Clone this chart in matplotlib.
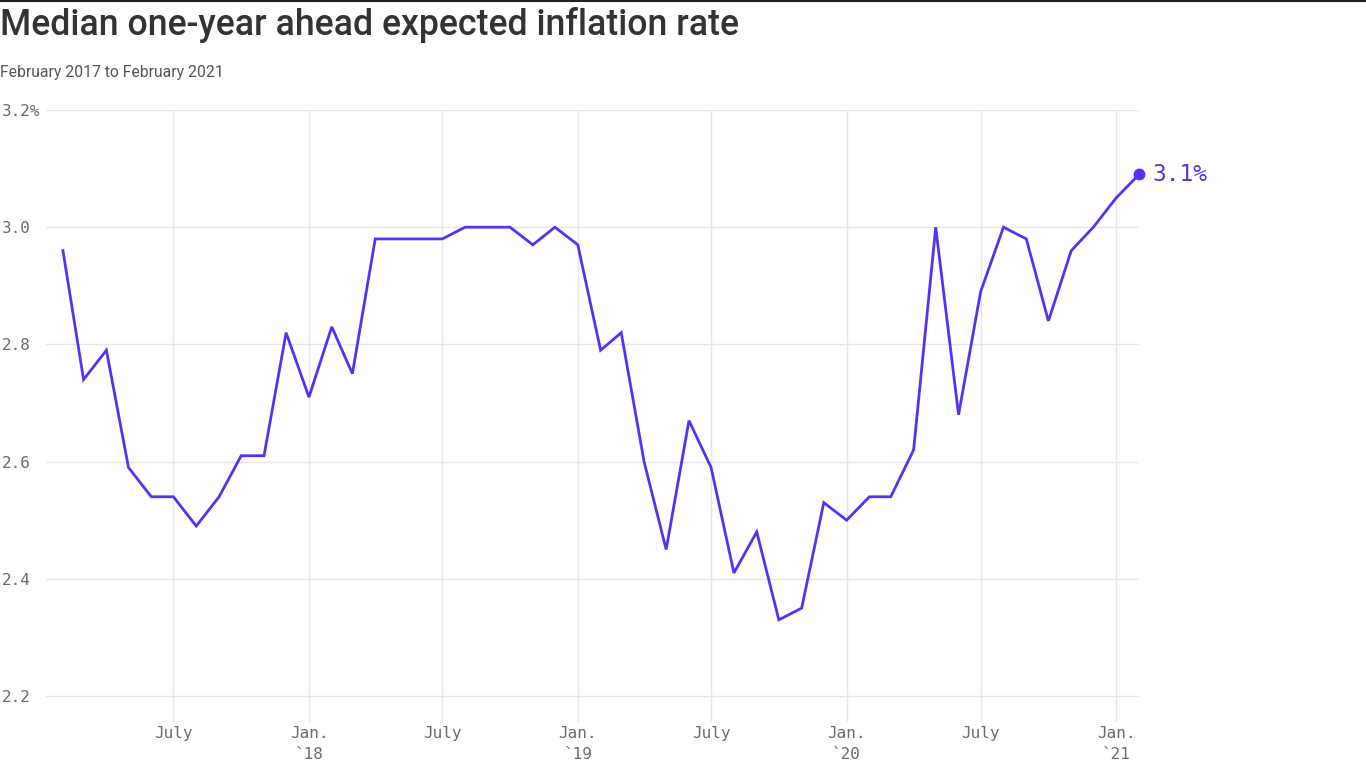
# Expectativa de inflación a un año (mediana), feb 2017 - feb 2021
import numpy as np
import pandas as pd
import matplotlib
matplotlib.use('Agg')
import matplotlib.pyplot as plt
import matplotlib.dates as mdates

# %% Datos
meses = pd.date_range('2017-02-01', '2021-02-01', freq='MS')
tasa = [2.96, 2.74, 2.79, 2.59, 2.54, 2.54, 2.49, 2.54, 2.61, 2.61, 2.82,
        2.71, 2.83, 2.75, 2.98, 2.98, 2.98, 2.98, 3.00, 3.00, 3.00, 2.97, 3.00,
        2.97, 2.79, 2.82, 2.60, 2.45, 2.67, 2.59, 2.41, 2.48, 2.33, 2.35, 2.53,
        2.50, 2.54, 2.54, 2.62, 3.00, 2.68, 2.89, 3.00, 2.98, 2.84, 2.96, 3.00,
        3.05, 3.09]
etiqueta_final = '3.1%'

y_ticks = [2.2, 2.4, 2.6, 2.8, 3.0, 3.2]
y_labels = ['2.2', '2.4', '2.6', '2.8', '3.0', '3.2%']
x_ticks = pd.to_datetime(['2017-07-01', '2018-01-01', '2018-07-01', '2019-01-01',
                          '2019-07-01', '2020-01-01', '2020-07-01', '2021-01-01'])
x_labels = ['July', 'Jan.\n`18', 'July', 'Jan.\n`19', 'July', 'Jan.\n`20',
            'July', 'Jan.\n`21']

# %% Estilo
morado = '#5a2ff5'
gris_grid = '#e6e6e6'
gris_txt = '#6b6b6b'
mono = 'DejaVu Sans Mono'

W, H = 1366, 768
fig = plt.figure(figsize=(W / 100, H / 100), dpi=100)
ax = fig.add_axes([46 / W, 1 - 722 / H, (1139 - 46) / W, (722 - 110) / H])

ax.plot(meses, tasa, color=morado, lw=2.0, solid_joinstyle='miter', zorder=3)
ax.plot(meses[-1], tasa[-1], 'o', color=morado, ms=7.5, clip_on=False, zorder=4)
ax.annotate(etiqueta_final, (meses[-1], tasa[-1]), xytext=(10, 0),
            textcoords='offset points', va='center', ha='left',
            fontsize=16.5, family=mono, color=morado, annotation_clip=False)

# Ejes
ax.set_xlim(pd.Timestamp('2017-01-09'), meses[-1])
ax.set_ylim(2.2 - 26 / 586, 3.2)
ax.set_yticks(y_ticks)
ax.set_yticklabels(y_labels, family=mono, fontsize=11.5, color=gris_txt, ha='left')
ax.set_xticks(x_ticks)
ax.set_xticklabels(x_labels, family=mono, fontsize=11.5, color=gris_txt,
                   linespacing=1.45)
ax.tick_params(axis='y', length=0, pad=44 * 0.72)
ax.tick_params(axis='x', length=0, pad=3)

for y in y_ticks:
    ax.axhline(y, color=gris_grid, lw=1, zorder=1)
for x in x_ticks:
    ax.axvline(x, color=gris_grid, lw=1, zorder=1)
for s in ax.spines.values():
    s.set_visible(False)

# Títulos
fig.text(0, 1 - 25 / H, 'Median one-year ahead expected inflation rate',
         fontsize=25.7, family='Roboto', weight='medium', color='#333333',
         va='center', ha='left')
fig.text(0, 1 - 72 / H, 'February 2017 to February 2021',
         fontsize=11.3, family='Roboto', color='#555555', va='center', ha='left')
fig.add_artist(plt.Line2D([0, 1], [1 - 0.5 / H, 1 - 0.5 / H], color='#222222',
                          lw=1.5, transform=fig.transFigure))

fig.savefig('out.png', dpi=100)
